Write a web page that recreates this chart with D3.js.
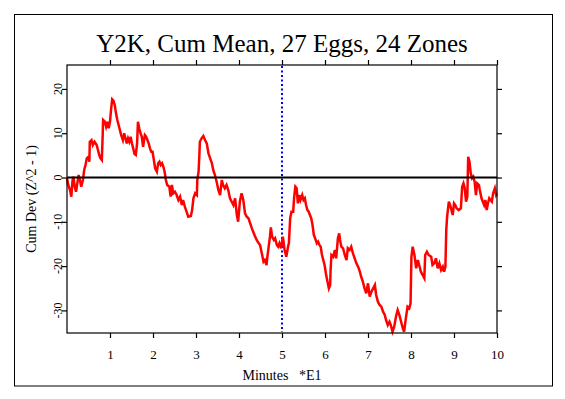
<!DOCTYPE html>
<html lang="en">
<head>
<meta charset="utf-8">
<title>Y2K, Cum Mean, 27 Eggs, 24 Zones</title>
<script src="https://d3js.org/d3.v7.min.js"></script>
<style>
  body { margin: 0; background: #fff; }
  text { font-family: "Liberation Serif", "Times New Roman", serif; fill: #000; }
</style>
</head>
<body>
<script>
// chart text
var titleText = "Y2K, Cum Mean, 27 Eggs, 24 Zones";
var xLabel = "Minutes   *E1";
var yLabel = "Cum Dev (Z^2 - 1)";

// axes
var xTicks = [1, 2, 3, 4, 5, 6, 7, 8, 9, 10];
var yTicks = [-30, -20, -10, 0, 10, 20];
var xDomain = [0, 10];
var yDomain = [-35.1, 25.4];

// midnight marker (minutes *E1)
var markerMinute = 5;

// cumulative deviation trace: [minutes *E1, cum dev]
var walk = [
  [0.00,0.00],[0.02,-1.31],[0.07,-2.82],[0.10,-4.33],[0.13,-0.56],[0.15,0.18],[0.18,-2.08],[0.21,-3.20],[0.24,-1.31],[0.27,0.56],
  [0.30,-0.56],[0.33,-2.08],[0.37,-0.56],[0.40,1.69],[0.43,2.82],[0.46,4.33],[0.50,4.69],[0.52,3.57],[0.53,8.08],[0.57,8.46],
  [0.60,7.34],[0.64,8.08],[0.69,7.34],[0.72,6.21],[0.75,5.08],[0.78,4.33],[0.81,3.95],[0.83,9.59],[0.84,12.98],[0.88,12.59],
  [0.91,11.47],[0.94,12.59],[0.97,11.10],[1.00,12.59],[1.02,14.85],[1.05,17.65],[1.08,17.33],[1.11,16.36],[1.14,14.49],[1.17,12.98],
  [1.20,11.85],[1.23,10.72],[1.26,9.59],[1.30,8.46],[1.33,9.98],[1.36,8.85],[1.39,7.72],[1.42,8.85],[1.45,8.08],[1.48,9.21],
  [1.51,7.72],[1.54,6.59],[1.57,5.30],[1.60,5.08],[1.63,7.72],[1.65,12.59],[1.68,11.10],[1.71,9.98],[1.74,9.21],[1.77,6.95],
  [1.81,9.59],[1.84,9.21],[1.87,8.46],[1.90,7.72],[1.93,6.59],[1.96,5.82],[1.99,5.82],[2.02,3.95],[2.05,2.08],[2.09,1.31],
  [2.12,3.20],[2.15,3.57],[2.18,2.82],[2.21,3.20],[2.24,2.44],[2.27,1.31],[2.30,-0.56],[2.33,-1.69],[2.38,-2.08],[2.41,-4.33],
  [2.44,-1.69],[2.47,-3.57],[2.51,-3.20],[2.55,-3.95],[2.59,-5.08],[2.63,-4.33],[2.67,-6.21],[2.70,-5.08],[2.74,-6.59],[2.78,-7.72],
  [2.82,-8.85],[2.88,-8.69],[2.91,-7.34],[2.94,-4.69],[2.98,-3.57],[3.02,-3.95],[3.03,-0.56],[3.06,1.31],[3.08,5.46],[3.09,8.08],
  [3.13,8.85],[3.17,9.37],[3.21,8.46],[3.25,7.72],[3.29,5.46],[3.33,4.33],[3.37,3.20],[3.40,1.69],[3.44,0.56],[3.48,-0.95],
  [3.52,-2.82],[3.56,-3.95],[3.60,-0.56],[3.63,-1.69],[3.67,-2.44],[3.71,-1.69],[3.75,-2.82],[3.79,-4.69],[3.83,-5.46],[3.87,-6.21],
  [3.91,-4.69],[3.95,-8.46],[3.98,-9.98],[4.02,-5.46],[4.06,-3.57],[4.10,-5.08],[4.14,-8.08],[4.18,-8.85],[4.22,-9.21],[4.26,-10.34],
  [4.30,-11.47],[4.33,-12.23],[4.37,-13.20],[4.41,-14.11],[4.45,-14.72],[4.49,-15.23],[4.53,-17.11],[4.57,-19.00],[4.60,-18.62],[4.64,-19.75],
  [4.66,-17.88],[4.69,-15.62],[4.72,-13.36],[4.74,-11.24],[4.77,-13.36],[4.81,-14.11],[4.84,-13.72],[4.88,-15.23],[4.91,-15.62],[4.94,-14.85],
  [4.98,-15.98],[5.02,-13.36],[5.06,-16.36],[5.10,-17.88],[5.14,-15.62],[5.16,-14.85],[5.19,-9.21],[5.22,-7.72],[5.26,-7.72],[5.28,-4.69],
  [5.31,-2.08],[5.34,-2.44],[5.37,-5.82],[5.40,-3.95],[5.43,-5.08],[5.47,-3.95],[5.50,-5.08],[5.53,-4.69],[5.56,-6.21],[5.59,-7.34],
  [5.62,-7.72],[5.65,-8.46],[5.68,-9.21],[5.71,-10.72],[5.74,-12.98],[5.77,-13.72],[5.81,-14.85],[5.84,-14.49],[5.87,-15.23],[5.90,-15.62],
  [5.93,-17.49],[5.96,-18.62],[5.99,-19.75],[6.02,-21.62],[6.05,-23.13],[6.09,-25.01],[6.12,-24.26],[6.13,-20.88],[6.15,-17.49],[6.19,-17.88],
  [6.23,-16.36],[6.26,-18.24],[6.30,-13.72],[6.33,-12.59],[6.35,-14.11],[6.38,-15.62],[6.42,-15.98],[6.46,-17.49],[6.50,-18.62],[6.53,-15.98],
  [6.57,-16.36],[6.61,-15.62],[6.65,-17.11],[6.69,-18.24],[6.73,-19.37],[6.77,-20.13],[6.81,-21.26],[6.84,-22.39],[6.88,-23.52],[6.92,-25.01],
  [6.96,-26.14],[7.00,-23.88],[7.04,-26.90],[7.08,-25.77],[7.12,-25.01],[7.16,-24.26],[7.19,-26.52],[7.23,-28.03],[7.27,-28.78],[7.31,-29.16],
  [7.35,-30.29],[7.39,-31.04],[7.42,-32.17],[7.46,-33.30],[7.50,-32.55],[7.53,-33.30],[7.57,-34.81],[7.61,-33.68],[7.65,-31.42],[7.69,-29.91],
  [7.73,-31.04],[7.77,-32.55],[7.81,-34.04],[7.84,-34.81],[7.88,-31.78],[7.92,-29.16],[7.96,-29.52],[7.99,-28.39],[8.01,-17.88],[8.04,-15.62],
  [8.08,-17.49],[8.12,-20.49],[8.16,-18.62],[8.19,-19.75],[8.23,-21.26],[8.27,-22.01],[8.31,-22.75],[8.33,-17.49],[8.37,-16.75],[8.41,-17.49],
  [8.47,-17.88],[8.50,-19.75],[8.54,-19.37],[8.58,-18.24],[8.62,-20.49],[8.66,-19.37],[8.70,-20.88],[8.74,-20.13],[8.77,-21.26],[8.80,-20.13],
  [8.82,-11.85],[8.84,-8.85],[8.88,-5.46],[8.91,-6.21],[8.94,-7.34],[8.97,-8.46],[9.00,-5.82],[9.03,-6.21],[9.06,-6.95],[9.11,-7.34],
  [9.16,-6.95],[9.19,-2.08],[9.22,-1.31],[9.25,-2.44],[9.28,-5.46],[9.31,-4.33],[9.33,4.69],[9.36,3.57],[9.39,0.95],[9.42,-0.18],
  [9.45,0.18],[9.48,-0.95],[9.51,-3.95],[9.54,-1.31],[9.58,-1.69],[9.60,-2.82],[9.64,-4.69],[9.67,-5.46],[9.70,-6.21],[9.73,-5.08],
  [9.76,-7.34],[9.79,-5.82],[9.82,-4.69],[9.85,-5.08],[9.88,-5.46],[9.91,-3.57],[9.95,-2.44],[9.98,-3.95],[10.00,-3.57]
];

// size and plot box
var w = 565, h = 399;
var pLeft = 67, pRight = 497, pTop = 65, pBottom = 333;

var x = d3.scaleLinear().domain(xDomain).range([pLeft, pRight]);
var y = d3.scaleLinear().domain(yDomain).range([pBottom, pTop]);

var svg = d3.select("body").append("svg")
  .attr("width", w)
  .attr("height", h);

// outer frame
svg.append("rect")
  .attr("x", 14.5).attr("y", 14.5)
  .attr("width", 538).attr("height", 371.5)
  .attr("fill", "none").attr("stroke", "#000").attr("stroke-width", 1);

// title
svg.append("text")
  .attr("x", (pLeft + pRight) / 2)
  .attr("y", 52)
  .attr("text-anchor", "middle")
  .style("font-size", "25px")
  .text(titleText);

// axes: ticks on all four sides, labels only bottom and left
function tidy(g) {
  g.select(".domain").remove();
  g.selectAll(".tick line").attr("stroke", "#000").attr("stroke-width", 1.2);
  g.selectAll(".tick text").attr("fill", "#000");
}

svg.append("g")
  .attr("transform", "translate(0," + pBottom + ")")
  .call(d3.axisBottom(x).tickValues(xTicks).tickSize(5).tickPadding(12).tickFormat(d3.format("d")))
  .call(tidy)
  .selectAll("text")
  .style("font-size", "13px")
  .style("font-family", "'Liberation Serif', serif");

svg.append("g")
  .attr("transform", "translate(0," + pTop + ")")
  .call(d3.axisTop(x).tickValues(xTicks).tickSize(5).tickFormat(""))
  .call(tidy);

svg.append("g")
  .attr("transform", "translate(" + pLeft + ",0)")
  .call(d3.axisLeft(y).tickValues(yTicks).tickSize(5).tickFormat(""))
  .call(tidy);

svg.append("g")
  .attr("transform", "translate(" + pRight + ",0)")
  .call(d3.axisRight(y).tickValues(yTicks).tickSize(5).tickFormat(""))
  .call(tidy);

// rotated y tick labels
svg.append("g").selectAll("text")
  .data(yTicks)
  .enter().append("text")
  .attr("transform", function(d) { return "translate(62," + y(d) + ") rotate(-90)"; })
  .attr("text-anchor", "middle")
  .style("font-size", "12px")
  .text(function(d) { return d; });

// axis titles
svg.append("text")
  .attr("x", (pLeft + pRight) / 2)
  .attr("y", 380)
  .attr("text-anchor", "middle")
  .attr("xml:space", "preserve")
  .style("white-space", "pre")
  .style("font-size", "14px")
  .text(xLabel);

svg.append("text")
  .attr("transform", "translate(35.5," + (pTop + pBottom) / 2 + ") rotate(-90)")
  .attr("text-anchor", "middle")
  .style("font-size", "14px")
  .text(yLabel);

// blue dotted marker line
svg.append("line")
  .attr("x1", x(markerMinute)).attr("x2", x(markerMinute))
  .attr("y1", pTop + 1).attr("y2", pBottom - 1)
  .attr("stroke", "#0000ff")
  .attr("stroke-width", 2)
  .attr("stroke-dasharray", "2,2.5");

// red trace
var line = d3.line()
  .x(function(d) { return x(d[0]); })
  .y(function(d) { return y(d[1]); });

svg.append("path")
  .datum(walk)
  .attr("d", line)
  .attr("fill", "none")
  .attr("stroke", "#ff0000")
  .attr("stroke-width", 2.5)
  .attr("stroke-linejoin", "miter");

// zero line
svg.append("line")
  .attr("x1", x(xDomain[0])).attr("x2", x(xDomain[1]))
  .attr("y1", y(0)).attr("y2", y(0))
  .attr("stroke", "#000")
  .attr("stroke-width", 2.2);

// plot box
svg.append("rect")
  .attr("x", pLeft).attr("y", pTop)
  .attr("width", pRight - pLeft).attr("height", pBottom - pTop)
  .attr("fill", "none").attr("stroke", "#000").attr("stroke-width", 1.2);
</script>
</body>
</html>
